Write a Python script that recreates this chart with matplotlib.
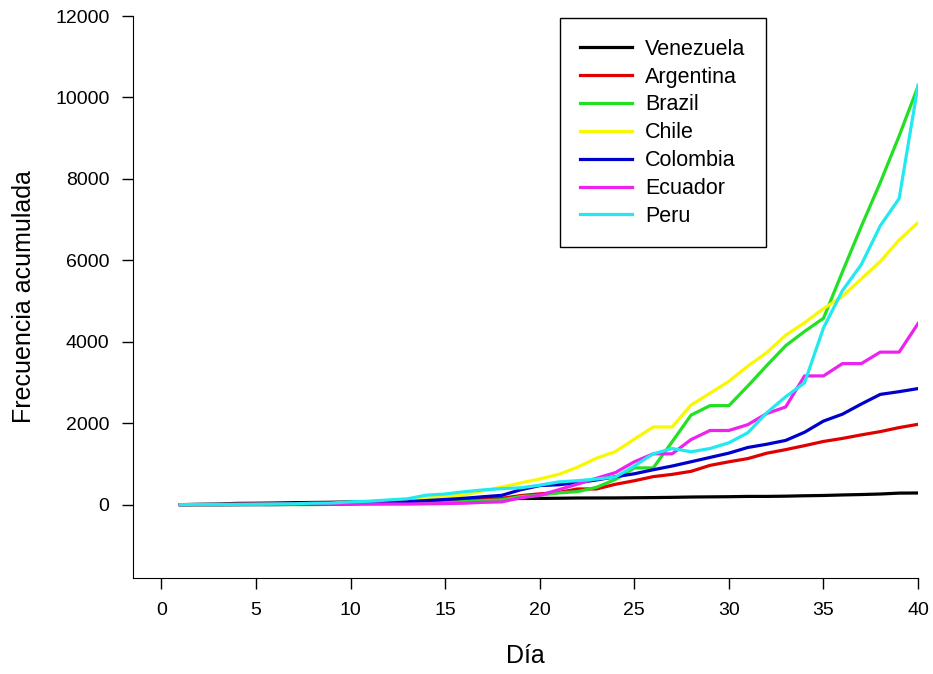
import matplotlib
matplotlib.use("Agg")
import matplotlib.pyplot as plt

plt.rcParams["font.family"] = ["Liberation Sans", "DejaVu Sans"]

# cumulative cases per country, day 1..40
dias = list(range(1, 41))

venezuela = [2, 10, 17, 33, 36, 42, 50, 55, 60, 70, 77, 84, 91, 107, 119,
             135, 143, 146, 153, 155, 159, 165, 166, 167, 171, 175, 181, 189,
             193, 197, 204, 204, 210, 220, 227, 240, 250, 263, 285, 288]
argentina = [1, 1, 2, 8, 12, 12, 17, 19, 19, 31, 34, 45, 56, 68, 79, 97, 128,
             158, 225, 266, 301, 387, 387, 502, 589, 690, 745, 820, 966, 1054,
             1133, 1265, 1353, 1451, 1554, 1628, 1715, 1795, 1894, 1975]
brazil = [1, 1, 1, 2, 2, 2, 2, 3, 8, 13, 19, 25, 25, 34, 52, 77, 98, 121, 200,
          234, 291, 321, 428, 621, 904, 904, 1546, 2201, 2433, 2433, 2915,
          3417, 3904, 4256, 4579, 5717, 6836, 7910, 9056, 10278]
chile = [1, 1, 4, 5, 7, 10, 13, 17, 23, 33, 43, 61, 75, 156, 201, 238, 342,
         434, 537, 632, 746, 922, 1142, 1306, 1610, 1909, 1909, 2449, 2738,
         3031, 3404, 3737, 4161, 4471, 4815, 5116, 5546, 5972, 6501, 6927]
colombia = [1, 1, 1, 1, 3, 3, 9, 9, 16, 24, 45, 57, 75, 102, 128, 158, 196,
            231, 368, 470, 491, 539, 608, 687, 760, 859, 950, 1055, 1161, 1267,
            1406, 1485, 1579, 1780, 2054, 2223, 2473, 2709, 2776, 2852]
ecuador = [1, 6, 7, 10, 13, 13, 14, 14, 15, 15, 17, 17, 17, 23, 28, 37, 58,
           70, 170, 230, 368, 506, 650, 789, 1055, 1250, 1250, 1600, 1823,
           1823, 1966, 2240, 2400, 3163, 3163, 3465, 3465, 3747, 3747, 4450]
peru = [1, 6, 7, 9, 11, 17, 22, 38, 43, 71, 86, 117, 145, 234, 263, 318, 363,
        395, 416, 480, 560, 590, 630, 680, 950, 1250, 1380, 1300, 1380, 1521,
        1767, 2258, 2650, 2994, 4342, 5256, 5897, 6848, 7519, 10303]

series = [
    ("Venezuela", venezuela, "#000000"),
    ("Argentina", argentina, "#e00000"),
    ("Brazil", brazil, "#22e022"),
    ("Chile", chile, "#f8f800"),
    ("Colombia", colombia, "#0000cc"),
    ("Ecuador", ecuador, "#ee22ee"),
    ("Peru", peru, "#22e8f0"),
]

fig = plt.figure(figsize=(9.33, 6.74), dpi=100)
ax = fig.add_axes([0.1426, 0.1424, 0.8414, 0.8338])

for name, vals, color in series:
    ax.plot(dias, vals, color=color, linewidth=2.3, label=name)

ax.set_xlim(-1.5, 40)
ax.set_ylim(-1800, 12000)
ax.set_xticks(range(0, 41, 5))
ax.set_yticks(range(0, 12001, 2000))
ax.spines["top"].set_visible(False)
ax.spines["right"].set_visible(False)
ax.tick_params(direction="out", length=8, width=1, labelsize=14, pad=9)
ax.set_xlabel("Día", fontsize=18, labelpad=18)
ax.set_ylabel("Frecuencia acumulada", fontsize=18, labelpad=14)

leg = ax.legend(loc="upper left", bbox_to_anchor=(0.6, 0.973),
                bbox_transform=fig.transFigure, fontsize=15.5,
                fancybox=False, edgecolor="black", framealpha=1,
                handlelength=2.4, handletextpad=0.6, labelspacing=0.32,
                borderpad=0.95, borderaxespad=0)
leg.get_frame().set_linewidth(1.0)

fig.savefig("out.png", dpi=100)
